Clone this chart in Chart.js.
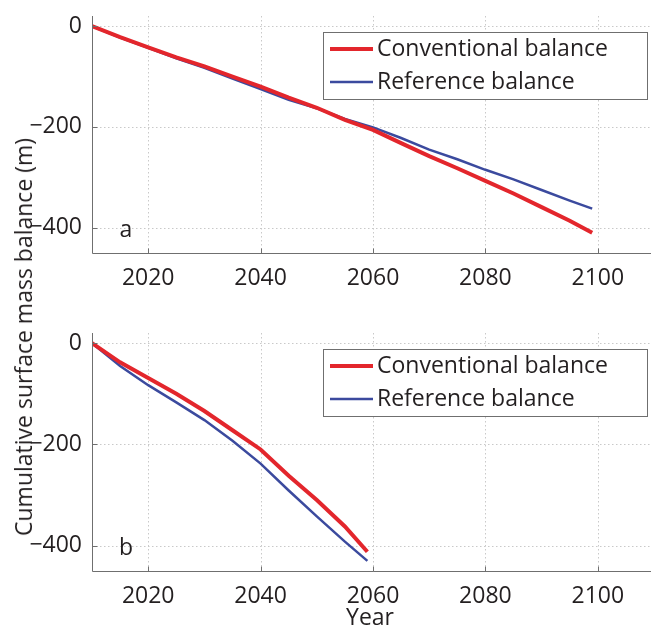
<!DOCTYPE html>
<html>
<head>
<meta charset="utf-8">
<script src="https://cdn.jsdelivr.net/npm/chart.js@4.4.1/dist/chart.umd.min.js"></script>
<style>
  html, body { margin: 0; padding: 0; background: #fff; }
  body { width: 651px; height: 628px; overflow: hidden; position: relative; }
  canvas { position: absolute; left: 0; }
  #top { top: 0; }
  #bottom { top: 317px; }
  #ytitle {
    position: absolute; left: 23px; top: 337px;
    transform: translate(-50%, -50%) rotate(-90deg);
    white-space: nowrap; font: 23px 'Open Sans', sans-serif; color: #231f20;
  }
</style>
</head>
<body>
<canvas id="top" width="660" height="317"></canvas>
<canvas id="bottom" width="660" height="311"></canvas>
<div id="ytitle">Cumulative surface mass balance (m)</div>
<script>
// Panel a: full century run
const yearsA = [2010, 2015, 2020, 2025, 2030, 2035, 2040, 2045, 2050, 2055, 2060, 2065, 2070, 2075, 2080, 2085, 2090, 2095, 2099];
const conventionalA = [0, -22, -42, -62, -80, -100, -120, -142, -162, -186, -206, -232, -258, -282, -307, -332, -359, -386, -410];
const referenceA    = [0, -23, -43, -64, -83, -104, -125, -146, -163, -184, -201, -222, -245, -264, -285, -304, -325, -346, -362];

// Panel b: run ending mid-century
const yearsB = [2010, 2015, 2020, 2025, 2030, 2035, 2040, 2045, 2050, 2055, 2059];
const conventionalB = [0, -38, -69, -100, -134, -172, -210, -262, -310, -362, -412];
const referenceB    = [0, -45, -83, -117, -152, -193, -238, -291, -342, -392, -430];

const xTicks = [2020, 2040, 2060, 2080, 2100];
const yTicks = [-400, -200, 0];
const seriesNames = ['Conventional balance', 'Reference balance'];
const seriesColors = ['#e3262c', '#3b4a9e'];
const seriesWidths = [4, 2.5];

Chart.defaults.font.family = "'Open Sans', sans-serif";
Chart.defaults.color = '#231f20';

const fmt = v => (v < 0 ? '\u2212' + Math.abs(v) : String(v));

// Matlab-style frame: dotted grid, left/bottom axis lines, inward ticks,
// boxed legend and a panel letter.
function framePlugin(letter, withXTitle) {
  return {
    id: 'frame' + letter,
    beforeDatasetsDraw(chart) {
      const { ctx, chartArea: a, scales: { x, y } } = chart;
      ctx.save();
      ctx.strokeStyle = '#c9c9c9';
      ctx.lineWidth = 1;
      ctx.setLineDash([1.5, 2.5]);
      xTicks.forEach(t => {
        const px = Math.round(x.getPixelForValue(t)) + 0.5;
        ctx.beginPath(); ctx.moveTo(px, a.top); ctx.lineTo(px, a.bottom); ctx.stroke();
      });
      yTicks.forEach(t => {
        const py = Math.round(y.getPixelForValue(t)) + 0.5;
        ctx.beginPath(); ctx.moveTo(a.left, py); ctx.lineTo(a.right, py); ctx.stroke();
      });
      ctx.restore();
    },
    afterDatasetsDraw(chart) {
      const { ctx, chartArea: a, scales: { x, y } } = chart;
      ctx.save();
      ctx.strokeStyle = '#6f6f6f';
      ctx.lineWidth = 1;
      const L = Math.round(a.left) + 0.5, B = Math.round(a.bottom) + 0.5;
      ctx.beginPath();
      ctx.moveTo(L, a.top); ctx.lineTo(L, B); ctx.lineTo(a.right, B);
      ctx.stroke();
      xTicks.forEach(t => {
        const px = Math.round(x.getPixelForValue(t)) + 0.5;
        ctx.beginPath(); ctx.moveTo(px, B); ctx.lineTo(px, B - 5); ctx.stroke();
      });
      yTicks.forEach(t => {
        const py = Math.round(y.getPixelForValue(t)) + 0.5;
        ctx.beginPath(); ctx.moveTo(L, py); ctx.lineTo(L + 5, py); ctx.stroke();
      });

      // legend
      const bx = 323.5, by = 32.5, bw = 324, bh = 67;
      ctx.fillStyle = '#fff';
      ctx.fillRect(bx, by, bw, bh);
      ctx.strokeStyle = '#6f6f6f';
      ctx.strokeRect(bx, by, bw, bh);
      ctx.font = "23px 'Open Sans', sans-serif";
      ctx.textBaseline = 'middle';
      ctx.textAlign = 'left';
      const rows = [49, 82];
      chart.data.datasets.forEach((ds, i) => {
        ctx.strokeStyle = ds.borderColor;
        ctx.lineWidth = ds.borderWidth;
        ctx.beginPath(); ctx.moveTo(330, rows[i]); ctx.lineTo(373, rows[i]); ctx.stroke();
        ctx.fillStyle = '#231f20';
        ctx.fillText(ds.label, 377, rows[i]);
      });

      // panel letter
      ctx.fillStyle = '#231f20';
      ctx.textAlign = 'center';
      ctx.fillText(letter, a.left + 34, y.getPixelForValue(-400) + 3);

      if (withXTitle) {
        ctx.textBaseline = 'middle';
        ctx.fillText('Year', 370, 301);
      }
      ctx.restore();
    }
  };
}

function makeChart(id, years, conv, ref, letter, xHeight, withXTitle) {
  return new Chart(document.getElementById(id), {
    type: 'line',
    data: {
      datasets: [conv, ref].map((vals, i) => ({
        label: seriesNames[i],
        data: years.map((yr, k) => ({ x: yr, y: vals[k] })),
        borderColor: seriesColors[i],
        borderWidth: seriesWidths[i],
        pointRadius: 0,
        tension: 0,
        fill: false
      }))
    },
    options: {
      responsive: false,
      animation: false,
      devicePixelRatio: 1,
      layout: { padding: { top: 16, right: 6, left: 0, bottom: 0 } },
      plugins: { legend: { display: false }, tooltip: { enabled: false } },
      scales: {
        x: {
          type: 'linear', min: 2010, max: 2110,
          grid: { display: false }, border: { display: false },
          afterBuildTicks: s => { s.ticks = xTicks.map(v => ({ value: v })); },
          afterFit: s => { s.height = xHeight; },
          ticks: { font: { size: 23 }, padding: 4, maxRotation: 0, callback: v => String(v) }
        },
        y: {
          type: 'linear', min: -450, max: 20,
          grid: { display: false }, border: { display: false },
          afterBuildTicks: s => { s.ticks = yTicks.map(v => ({ value: v })); },
          afterFit: s => { s.width = 92; },
          ticks: { font: { size: 23 }, padding: 2, callback: v => fmt(v) }
        }
      }
    },
    plugins: [framePlugin(letter, withXTitle)]
  });
}

makeChart('top', yearsA, conventionalA, referenceA, 'a', 64, false);
makeChart('bottom', yearsB, conventionalB, referenceB, 'b', 57, true);
</script>
</body>
</html>
